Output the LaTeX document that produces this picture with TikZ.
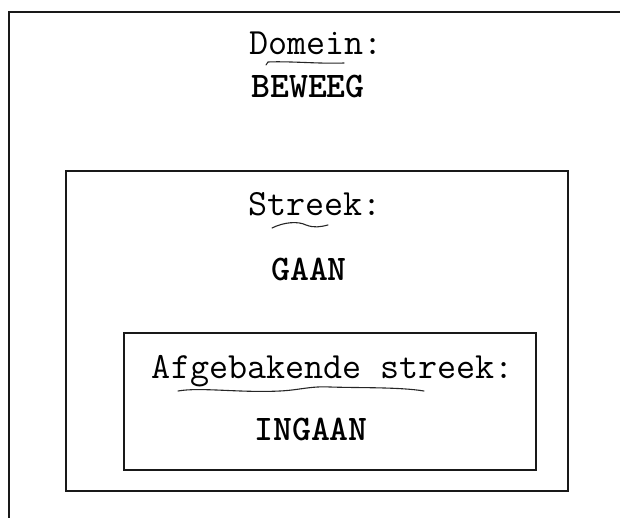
\documentclass[tikz,border=0pt]{standalone}
\usepackage{fontspec}
\begin{document}
\begin{tikzpicture}[x=1pt,y=-1pt,
  frame/.style={draw=black!90,line width=2pt},
  lbl/.style={font=\fontsize{37}{40}\selectfont\ttfamily,anchor=base,inner sep=0pt},
  val/.style={font=\fontsize{36}{40}\selectfont\ttfamily\bfseries,anchor=base,inner sep=0pt},
  pen/.style={draw=black!85,line width=1.1pt,line cap=round}]
\useasboundingbox (0,0) rectangle (620,518);
\clip (0,0) rectangle (620,518);
% outer frame (runs off the page at right and bottom)
\draw[frame] (9,12) rectangle (640,540);
% middle frame
\draw[frame] (66,171) rectangle (568,491);
% inner frame
\draw[frame] (124,333) rectangle (536,470);
% texts
\node[lbl] (dom) at (316,55) {Domein:};
\node[val] (bew) at (308,98) {BEWEEG};
\node[lbl] (str) at (315,216) {Streek:};
\node[val] (gaan) at (309,280) {GAAN};
\node[lbl] (afg) at (333,378) {Afgebakende streek:};
\node[val] (ing) at (311,440) {INGAAN};
% hand-drawn underlines
\draw[pen] (266,65) -- (268,62) .. controls (290,61) and (320,64) .. (344,63);
\draw[pen] (272,228) .. controls (284,222) and (298,221) .. (306,225) .. controls (314,228) and (320,227) .. (328,225);
\draw[pen] (178,391) .. controls (200,387) and (240,393) .. (280,391) .. controls (300,390) and (310,386) .. (330,387) .. controls (360,388) and (400,387) .. (424,391);
\end{tikzpicture}
\end{document}
